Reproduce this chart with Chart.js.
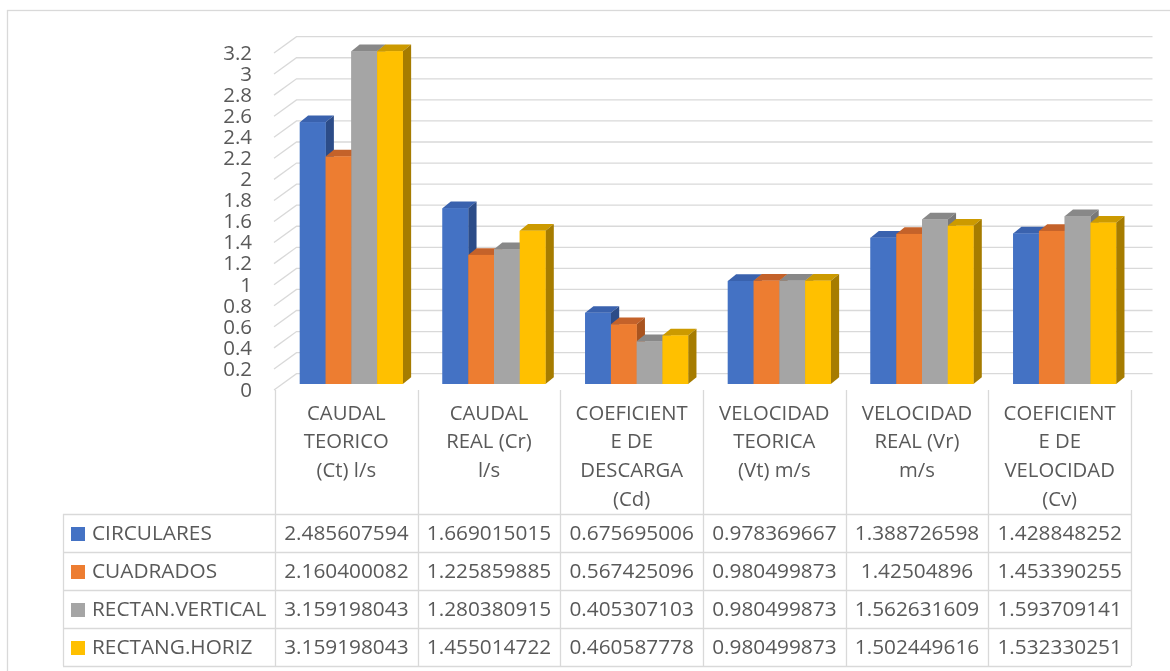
<!DOCTYPE html>
<html>
<head>
<meta charset="utf-8">
<title>Caudales y coeficientes</title>
<script src="https://cdn.jsdelivr.net/npm/chart.js@4.4.1/dist/chart.umd.min.js"></script>
<style>
  html, body { margin: 0; padding: 0; background: #ffffff; }
  #wrap { position: relative; width: 1170px; height: 671px; }
</style>
</head>
<body>
<div id="wrap"><canvas id="chart" width="1170" height="671"></canvas></div>
<script>
// Category labels (one entry per line of text)
const categories = [
  ['CAUDAL', 'TEORICO', '(Ct) l/s'],
  ['CAUDAL', 'REAL (Cr)', 'l/s'],
  ['COEFICIENT', 'E DE', 'DESCARGA', '(Cd)'],
  ['VELOCIDAD', 'TEORICA', '(Vt) m/s'],
  ['VELOCIDAD', 'REAL (Vr)', 'm/s'],
  ['COEFICIENT', 'E DE', 'VELOCIDAD', '(Cv)']
];

// Series values
const circulares     = [2.485607594, 1.669015015, 0.675695006, 0.978369667, 1.388726598, 1.428848252];
const cuadrados      = [2.160400082, 1.225859885, 0.567425096, 0.980499873, 1.42504896, 1.453390255];
const rectanVertical = [3.159198043, 1.280380915, 0.405307103, 0.980499873, 1.562631609, 1.593709141];
const rectangHoriz   = [3.159198043, 1.455014722, 0.460587778, 0.980499873, 1.502449616, 1.532330251];

const seriesNames = ['CIRCULARES', 'CUADRADOS', 'RECTAN.VERTICAL', 'RECTANG.HORIZ'];

// Value axis range
const yMin = 0;
const yMax = 3.2;
const yStep = 0.2;

// Colours: front face, top face, side face
const frontColors = ['#4472C4', '#ED7D31', '#A5A5A5', '#FFC000'];
const topColors   = ['#3A62AE', '#C4622A', '#888888', '#CC9A00'];
const sideColors  = ['#2C4C88', '#A9541F', '#787878', '#A67C00'];

const GRID = '#D9D9D9';
const TEXT = '#595959';
const FONT = '"Open Sans", "Noto Sans", sans-serif';

// 3D depth of the plot box (back wall offset) and of each bar
const WALL_DX = 21.5, WALL_DY = 17.3;
const BAR_DX = 5, BAR_DY = -7;
const FACE_DX = 8.3, FACE_DY = -6.7;

// Data table geometry
const TABLE_LEFT = 63;
const ROW_TOP = 514;
const ROW_H = 38;

const datasets = [circulares, cuadrados, rectanVertical, rectangHoriz].map((values, i) => ({
  label: seriesNames[i],
  data: values,
  backgroundColor: frontColors[i],
  borderWidth: 0,
  categoryPercentage: 0.722,
  barPercentage: 1.0
}));

const pseudo3d = {
  id: 'pseudo3d',
  beforeDraw(chart) {
    const ctx = chart.ctx;
    ctx.save();
    ctx.fillStyle = '#ffffff';
    ctx.fillRect(0, 0, chart.width, chart.height);
    // chart border
    ctx.strokeStyle = GRID;
    ctx.lineWidth = 1.3;
    ctx.strokeRect(7.5, 10.5, 1200, 700);
    ctx.restore();
  },
  beforeDatasetsDraw(chart) {
    const ctx = chart.ctx;
    const a = chart.chartArea;
    const ys = chart.scales.y;
    ctx.save();
    ctx.strokeStyle = GRID;
    ctx.lineWidth = 1.3;
    ys.ticks.forEach(t => {
      const yf = ys.getPixelForValue(t.value);
      const yb = yf - WALL_DY;
      ctx.beginPath();
      ctx.moveTo(a.left - 1, yf - 1);
      ctx.lineTo(a.left + WALL_DX, yb);
      ctx.lineTo(a.right + WALL_DX, yb);
      ctx.stroke();
    });
    ctx.restore();
    // bars sit in the middle of the box depth
    ctx.save();
    ctx.translate(BAR_DX, BAR_DY);
  },
  afterDatasetsDraw(chart) {
    const ctx = chart.ctx;
    const metas = chart.data.datasets.map((_, d) => chart.getDatasetMeta(d));
    const n = chart.data.labels.length;
    for (let i = 0; i < n; i++) {
      metas.forEach((meta, d) => {
        const el = meta.data[i];
        const p = el.getProps(['x', 'y', 'base', 'width'], true);
        const l = p.x - p.width / 2, r = p.x + p.width / 2;
        const top = p.y, bot = p.base;
        // top face
        ctx.fillStyle = topColors[d];
        ctx.beginPath();
        ctx.moveTo(l, top);
        ctx.lineTo(l + FACE_DX, top + FACE_DY);
        ctx.lineTo(r + FACE_DX, top + FACE_DY);
        ctx.lineTo(r, top);
        ctx.closePath();
        ctx.fill();
        // side face
        ctx.fillStyle = sideColors[d];
        ctx.beginPath();
        ctx.moveTo(r, top);
        ctx.lineTo(r + FACE_DX, top + FACE_DY);
        ctx.lineTo(r + FACE_DX, bot + FACE_DY);
        ctx.lineTo(r, bot);
        ctx.closePath();
        ctx.fill();
        // front face
        ctx.fillStyle = frontColors[d];
        ctx.fillRect(l, top, r - l, bot - top);
      });
    }
    ctx.restore();
  },
  afterDraw(chart) {
    const ctx = chart.ctx;
    const a = chart.chartArea;
    const xs = chart.scales.x;
    const n = chart.data.labels.length;
    const colW = (a.right - a.left) / n;
    const bottom = ROW_TOP + ROW_H * datasets.length;
    ctx.save();
    ctx.strokeStyle = GRID;
    ctx.lineWidth = 1.3;
    // column separators
    for (let k = 0; k <= n; k++) {
      const x = Math.round(a.left + k * colW) + 0.5;
      ctx.beginPath();
      ctx.moveTo(x, 390);
      ctx.lineTo(x, bottom);
      ctx.stroke();
    }
    // legend column border
    ctx.beginPath();
    ctx.moveTo(TABLE_LEFT + 0.5, ROW_TOP);
    ctx.lineTo(TABLE_LEFT + 0.5, bottom);
    ctx.stroke();
    // row separators
    for (let r = 0; r <= datasets.length; r++) {
      const y = ROW_TOP + r * ROW_H + 0.5;
      ctx.beginPath();
      ctx.moveTo(TABLE_LEFT, y);
      ctx.lineTo(a.right, y);
      ctx.stroke();
    }
    // category headers
    ctx.fillStyle = TEXT;
    ctx.textAlign = 'center';
    ctx.textBaseline = 'middle';
    ctx.font = '20.3px ' + FONT;
    chart.data.labels.forEach((lines, i) => {
      const cx = xs.getPixelForValue(i);
      lines.forEach((s, j) => ctx.fillText(s, cx, 414 + j * 28.6));
    });
    // values
    ctx.font = '20.8px ' + FONT;
    chart.data.datasets.forEach((ds, d) => {
      const cy = ROW_TOP + d * ROW_H + ROW_H / 2 + 1;
      ds.data.forEach((v, i) => {
        ctx.fillText(String(v), xs.getPixelForValue(i), cy);
      });
    });
    // legend keys and names
    ctx.textAlign = 'left';
    ctx.font = '20.8px ' + FONT;
    chart.data.datasets.forEach((ds, d) => {
      const cy = ROW_TOP + d * ROW_H + ROW_H / 2 + 1;
      ctx.fillStyle = ds.backgroundColor;
      ctx.fillRect(71, cy - 7, 14, 14);
      ctx.fillStyle = TEXT;
      ctx.fillText(ds.label, 92, cy);
    });
    ctx.restore();
  }
};

new Chart(document.getElementById('chart'), {
  type: 'bar',
  data: { labels: categories, datasets },
  options: {
    responsive: false,
    devicePixelRatio: 1,
    animation: false,
    layout: { padding: { top: 54, right: 39, left: 0, bottom: 0 } },
    plugins: {
      legend: { display: false },
      tooltip: { enabled: false },
      title: { display: false }
    },
    scales: {
      x: {
        grid: { display: false, drawTicks: false },
        border: { display: false },
        ticks: { display: false },
        afterFit(scale) { scale.height = 280; }
      },
      y: {
        min: yMin,
        max: yMax,
        grid: { display: false, drawTicks: false },
        border: { display: false },
        ticks: {
          stepSize: yStep,
          autoSkip: false,
          padding: 23,
          color: TEXT,
          font: { family: FONT, size: 20.5 },
          callback: v => String(Number(v.toFixed(1)))
        },
        afterFit(scale) { scale.width = 275; }
      }
    }
  },
  plugins: [pseudo3d]
});
</script>
</body>
</html>
